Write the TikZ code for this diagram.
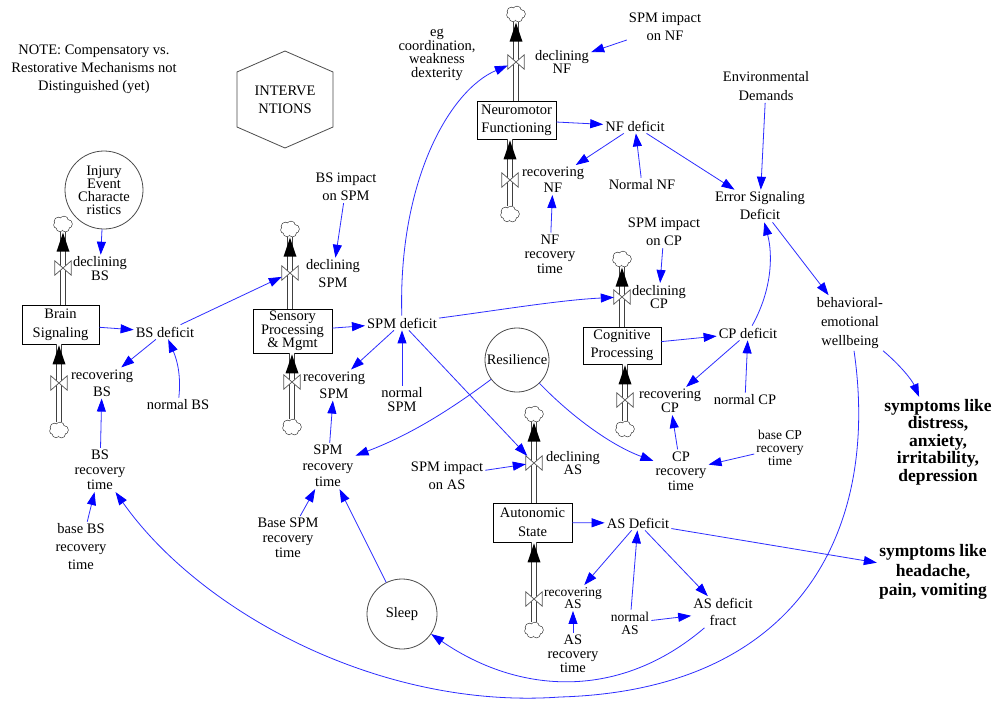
\documentclass[tikz,border=0pt]{standalone}
\usepackage{fontspec}
\setmainfont{Liberation Serif}
\usetikzlibrary{arrows.meta,calc}
\definecolor{lnk}{RGB}{45,45,255}
\definecolor{tipc}{RGB}{0,0,255}
\begin{document}
\begin{tikzpicture}[x=1pt,y=-1pt,
  every node/.style={inner sep=2pt, align=center},
  lab/.style={font=\fontsize{14.5}{#1}\selectfont},
  lab/.default=15,
  smlab/.style={font=\fontsize{13.5}{#1}\selectfont},
  boldlab/.style={font=\fontsize{17.5}{#1}\selectfont\bfseries},
  stock/.style={draw=black, line width=0.8pt, fill=white, inner sep=0pt},
  circ/.style={circle, draw=black!70, line width=0.8pt, inner sep=0pt},
  conn/.style={draw=lnk, line width=0.8pt, -{Triangle[length=13pt,width=9pt,color=tipc]}},
  pipe/.style={draw=black!75, line width=0.8pt, double=white, double distance=4pt},
  valve/.style={minimum width=16pt, minimum height=14pt, inner sep=0pt},
  vshape/.style={draw=black!65, fill=white, line width=0.7pt},
  cloudn/.style={minimum width=18pt, minimum height=15pt, inner sep=0pt},
  head/.style={fill=black},
  cloudpic/.pic={
    \foreach \a/\b/\r in {-4.5/-2.5/4, 1/-3.5/4, 5/0/4, 2.5/4/3.5, -3/3.8/3.5, -6/1/3, 0/0.5/4}
      \draw[line width=1.3pt, black!75] (\a,\b) circle[radius=\r];
    \foreach \a/\b/\r in {-4.5/-2.5/4, 1/-3.5/4, 5/0/4, 2.5/4/3.5, -3/3.8/3.5, -6/1/3, 0/0.5/4}
      \fill[white] (\a,\b) circle[radius=\r];
  }
]
\fill[white] (0,0) rectangle (996,702);
\useasboundingbox (0,0) rectangle (996,702);

% ---------- note and interventions
\node[lab=18] (note) at (94,69) {NOTE: Compensatory vs.\\Restorative Mechanisms not\\Distinguished (yet)};
\draw[draw=black!70, line width=0.8pt] (285,51) -- (333,72) -- (333,127) -- (285,148) -- (237,127) -- (237,72) -- cycle;
\node[lab=18] (interv) at (285,100) {INTERVE\\NTIONS};

% ---------- stocks
\node[stock, minimum width=77pt, minimum height=39pt, lab=19] (BSs) at (60.5,324.5) {Brain\\Signaling};
\node[stock, minimum width=79pt, minimum height=44pt, lab=12.5] (SPMs) at (292.5,331) {Sensory\\Processing\\\& Mgmt};
\node[stock, minimum width=79pt, minimum height=38pt, lab=18] (NFs) at (516.5,120) {Neuromotor\\Functioning};
\node[stock, minimum width=78pt, minimum height=37pt, lab=18] (CPs) at (622,345.5) {Cognitive\\Processing};
\node[stock, minimum width=79pt, minimum height=39pt, lab=19] (ASs) at (532.5,522.5) {Autonomic\\State};

% ---------- clouds and valves
\node[cloudn] (cBSt) at (63,224) {};   \node[valve] (vBSt) at (63,268) {};
\node[cloudn] (cBSb) at (59,430) {};   \node[valve] (vBSb) at (59,383) {};
\node[cloudn] (cSPMt) at (290,229) {}; \node[valve] (vSPMt) at (290,273) {};
\node[cloudn] (cSPMb) at (292,427) {}; \node[valve] (vSPMb) at (292,382) {};
\node[cloudn] (cNFt) at (516,14) {};   \node[valve] (vNFt) at (516,62) {};
\node[cloudn] (cNFb) at (510,214) {};  \node[valve] (vNFb) at (510,180) {};
\node[cloudn] (cCPt) at (622,259) {};  \node[valve] (vCPt) at (622,297) {};
\node[cloudn] (cCPb) at (625,429) {};  \node[valve] (vCPb) at (625,400) {};
\node[cloudn] (cASt) at (534,414) {};  \node[valve] (vASt) at (534,463) {};
\node[cloudn] (cASb) at (534,630) {};  \node[valve] (vASb) at (534,599) {};

% ---------- pipes
\draw[pipe] (BSs.north -| cBSt) -- (cBSt.south);
\draw[pipe] (cBSb.north) -- (BSs.south -| cBSb);
\draw[pipe] (SPMs.north -| cSPMt) -- (cSPMt.south);
\draw[pipe] (cSPMb.north) -- (SPMs.south -| cSPMb);
\draw[pipe] (NFs.north -| cNFt) -- (cNFt.south);
\draw[pipe] (cNFb.north) -- (NFs.south -| cNFb);
\draw[pipe] (CPs.north -| cCPt) -- (cCPt.south);
\draw[pipe] (cCPb.north) -- (CPs.south -| cCPb);
\draw[pipe] (ASs.north -| cASt) -- (cASt.south);
\draw[pipe] (cASb.north) -- (ASs.south -| cASb);

% ---------- clouds
\foreach \c in {cBSt,cBSb,cSPMt,cSPMb,cNFt,cNFb,cCPt,cCPb,cASt,cASb}{
  \pic at (\c) {cloudpic};
}

% ---------- pipe arrowheads
\foreach \c in {cBSt,cSPMt,cNFt,cCPt,cASt}{
  \fill[head] ($(\c.south)+(0,1)$) -- ++(-6.5,19) -- ++(13,0) -- cycle;
}
\fill[head] ($(BSs.south -| cBSb)+(0,1)$) -- ++(-6.5,19) -- ++(13,0) -- cycle;
\fill[head] ($(SPMs.south -| cSPMb)+(0,1)$) -- ++(-6.5,19) -- ++(13,0) -- cycle;
\fill[head] ($(NFs.south -| cNFb)+(0,1)$) -- ++(-6.5,19) -- ++(13,0) -- cycle;
\fill[head] ($(CPs.south -| cCPb)+(0,1)$) -- ++(-6.5,19) -- ++(13,0) -- cycle;
\fill[head] ($(ASs.south -| cASb)+(0,1)$) -- ++(-6.5,19) -- ++(13,0) -- cycle;

% ---------- valve shapes
\foreach \v in {vBSt,vBSb,vSPMt,vSPMb,vNFt,vNFb,vCPt,vCPb,vASt,vASb}{
  \draw[vshape] (\v.north west) -- (\v.south west) -- (\v.north east) -- (\v.south east) -- cycle;
}

% ---------- circles
\node[circ, minimum size=78pt, lab=13] (inj) at (104,190) {Injury\\Event\\Characte\\ristics};
\node[circ, minimum size=64pt, lab] (res) at (517,360) {Resilience};
\node[circ, minimum size=70pt, lab] (sleep) at (402,614) {Sleep};

% ---------- auxiliaries
\node[lab=14] (declBS) at (100,269) {declining\\BS};
\node[lab=17] (recBS) at (102,383) {recovering\\BS};
\node[lab] (BSdef) at (165,332) {BS deficit};
\node[lab] (normBS) at (178,405) {normal BS};
\node[lab=15] (BSrt) at (100,470) {BS\\recovery\\time};
\node[lab=18] (baseBSrt) at (81,547) {base BS\\recovery\\time};

\node[lab=18] (BSimp) at (346,187) {BS impact\\on SPM};
\node[lab=18] (declSPM) at (333,274) {declining\\SPM};
\node[lab] (SPMdef) at (402,323) {SPM deficit};
\node[lab=17] (recSPM) at (334,385) {recovering\\SPM};
\node[lab=14] (normSPM) at (402,400) {normal\\SPM};
\node[lab=16] (SPMrt) at (328,466) {SPM\\recovery\\time};
\node[lab=15] (baseSPMrt) at (288,538) {Base SPM\\recovery\\time};

\node[lab=13.5] (eg) at (437,55) {eg\\coordination,\\weakness\\dexterity};
\node[lab=13.5] (declNF) at (562,62) {declining\\NF};
\node[lab=18] (SPMimpNF) at (665,27) {SPM impact\\on NF};
\node[lab=16] (recNF) at (553,180) {recovering\\NF};
\node[lab] (NFdef) at (635,126) {NF deficit};
\node[lab] (normNF) at (642,185) {Normal NF};
\node[lab=14.5] (NFrt) at (550,254) {NF\\recovery\\time};

\node[lab=19] (env) at (766,86) {Environmental\\Demands};
\node[lab=18] (ESD) at (760,206) {Error Signaling\\Deficit};
\node[lab=19] (BEW) at (850,323) {behavioral-\\emotional\\wellbeing};

\node[lab=18] (SPMimpCP) at (664,232) {SPM impact\\on CP};
\node[lab=13.5] (declCP) at (659,297) {declining\\CP};
\node[lab] (CPdef) at (748,333) {CP deficit};
\node[lab=14] (recCP) at (670,401) {recovering\\CP};
\node[lab] (normCP) at (745,400) {normal CP};
\node[lab=14.5] (CPrt) at (681,471) {CP\\recovery\\time};
\node[smlab=13] (baseCPrt) at (780,448) {base CP\\recovery\\time};

\node[lab=13.5] (declAS) at (573,463) {declining\\AS};
\node[lab=18] (SPMimpAS) at (447,476) {SPM impact\\on AS};
\node[lab] (ASdef) at (638,523) {AS Deficit};
\node[smlab=12.5] (recAS) at (573,598) {recovering\\AS};
\node[lab=14] (ASrt) at (573,654) {AS\\recovery\\time};
\node[smlab=13] (normAS) at (630,623) {normal\\AS};
\node[lab=17] (ASfract) at (723,612) {AS deficit\\fract};

\node[boldlab=17.5] (sym1) at (938,442) {symptoms like\\distress,\\anxiety,\\irritability,\\depression};
\node[boldlab=19.5] (sym2) at (933,572) {symptoms like\\headache,\\pain, vomiting};

% ---------- connectors
\draw[conn] (inj) -- (declBS);
\draw[conn] (BSs) -- (BSdef);
\draw[conn] (BSdef) -- (recBS);
\draw[conn] (normBS) .. controls (181,378) and (178,362) .. (BSdef);
\draw[conn] (BSrt) -- (recBS);
\draw[conn] (baseBSrt) -- (BSrt);
\draw[conn] (BEW) .. controls (880,530) and (800,690) .. (560,697) .. controls (380,710) and (200,612) .. (BSrt);

\draw[conn] (BSdef) -- (vSPMt);
\draw[conn] (BSimp) -- (declSPM);
\draw[conn] (SPMs) -- (SPMdef);
\draw[conn] (SPMdef) -- (recSPM);
\draw[conn] (normSPM) -- (SPMdef);
\draw[conn] (SPMrt) -- (recSPM);
\draw[conn] (baseSPMrt) -- (SPMrt);
\draw[conn] (sleep) -- (SPMrt);
\draw[conn] (res) .. controls (450,410) and (410,435) .. (SPMrt);
\draw[conn] (SPMdef) .. controls (398,180) and (450,90) .. (vNFt);
\draw[conn] (SPMdef) .. controls (500,310) and (560,300) .. (vCPt);
\draw[conn] (SPMdef) -- (vASt);

\draw[conn] (SPMimpNF) -- (declNF);
\draw[conn] (NFs) -- (NFdef);
\draw[conn] (NFdef) -- (recNF);
\draw[conn] (normNF) -- (NFdef);
\draw[conn] (NFrt) -- (recNF);
\draw[conn] (NFdef) -- (ESD);
\draw[conn] (env) -- (ESD);
\draw[conn] (ESD) -- (BEW);
\draw[conn] (CPdef) .. controls (772,290) and (773,255) .. (ESD);
\draw[conn] (BEW) .. controls (900,365) and (912,380) .. (sym1);

\draw[conn] (SPMimpCP) -- (declCP);
\draw[conn] (CPs) -- (CPdef);
\draw[conn] (CPdef) -- (recCP);
\draw[conn] (normCP) -- (CPdef);
\draw[conn] (CPrt) -- (recCP);
\draw[conn] (baseCPrt) -- (CPrt);
\draw[conn] (res) .. controls (570,415) and (610,445) .. (CPrt);

\draw[conn] (SPMimpAS) -- (vASt);
\draw[conn] (ASs) -- (ASdef);
\draw[conn] (ASdef) -- (recAS);
\draw[conn] (normAS) -- (ASdef);
\draw[conn] (ASdef) -- (ASfract);
\draw[conn] (normAS) -- (ASfract);
\draw[conn] (ASrt) -- (recAS);
\draw[conn] (ASdef) -- (sym2);
\draw[conn] (ASfract) .. controls (620,700) and (520,695) .. (sleep);
\end{tikzpicture}
\end{document}
